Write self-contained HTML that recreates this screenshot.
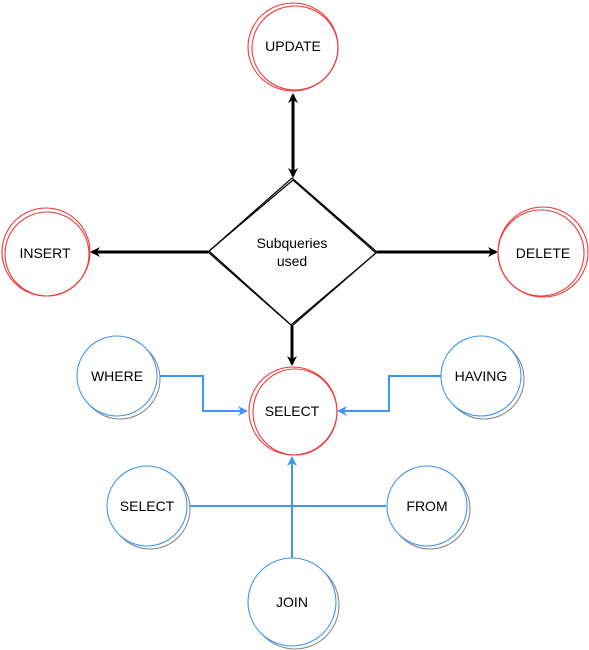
<!DOCTYPE html>
<html><head><meta charset="utf-8"><style>
html,body{margin:0;padding:0;background:#fff;}
svg{display:block;font-family:"Liberation Sans",Arial,sans-serif;font-size:14px;}
</style></head><body>
<svg width="589" height="650" viewBox="0 0 589 650" xmlns="http://www.w3.org/2000/svg">
<defs>
<marker id="ab" markerWidth="10" markerHeight="10" refX="8" refY="5" orient="auto" markerUnits="userSpaceOnUse"><path d="M0,0 L10,5 L0,10 L3,5 Z" fill="#000"/></marker>
<marker id="abs" markerWidth="10" markerHeight="10" refX="2" refY="5" orient="auto" markerUnits="userSpaceOnUse"><path d="M10,0 L0,5 L10,10 L7,5 Z" fill="#000"/></marker>
<marker id="bb" markerWidth="10" markerHeight="10" refX="8" refY="5" orient="auto" markerUnits="userSpaceOnUse"><path d="M0,0 L10,5 L0,10 L3,5 Z" fill="#3d96f2"/></marker>
</defs>
<!-- black connectors -->
<g stroke="#000" stroke-width="3" fill="none">
<line x1="293" y1="176" x2="293" y2="95" marker-end="url(#ab)" marker-start="url(#abs)"/>
<line x1="208" y1="252" x2="92" y2="252" marker-end="url(#ab)"/>
<line x1="377" y1="252" x2="496" y2="252" marker-end="url(#ab)"/>
<line x1="292" y1="326" x2="292" y2="364" marker-end="url(#ab)"/>
</g>
<!-- blue connectors -->
<g stroke="#3d96f2" stroke-width="2" fill="none">
<polyline points="158,376 203,376 203,411 246,411" marker-end="url(#bb)"/>
<polyline points="441,376 389,376 389,411 339,411" marker-end="url(#bb)"/>
<line x1="188" y1="506" x2="386" y2="506"/>
<line x1="292" y1="558" x2="292" y2="458" marker-end="url(#bb)"/>
</g>
<!-- diamond -->
<g fill="#fff" stroke="#000" stroke-width="1.2">
<polygon points="292,178 377,252 292,326 208,252"/>
<polygon points="293,180 376,253 291,325 209,251" fill="none"/>
</g>
<text x="292" y="248" text-anchor="middle">Subqueries</text>
<text x="292" y="266" text-anchor="middle">used</text>
<!-- red circles -->
<g fill="#fff" stroke="#f03a3a" stroke-width="1.1">
<ellipse cx="293" cy="47" rx="45" ry="44"/><ellipse cx="295" cy="48" rx="43" ry="42" fill="none"/>
<ellipse cx="46" cy="252" rx="44" ry="44"/><ellipse cx="47" cy="254" rx="42" ry="42" fill="none"/>
<ellipse cx="543" cy="252" rx="45" ry="45"/><ellipse cx="541" cy="253" rx="43" ry="43" fill="none"/>
<ellipse cx="293" cy="411" rx="44" ry="44"/><ellipse cx="295" cy="412" rx="42" ry="43" fill="none"/>
</g>
<!-- blue circles -->
<g fill="#fff" stroke-width="1.1">
<g stroke="#888"><ellipse cx="120" cy="379" rx="40" ry="40"/><ellipse cx="484" cy="379" rx="40" ry="40"/><ellipse cx="150" cy="509" rx="40" ry="40"/><ellipse cx="430" cy="509" rx="40" ry="40"/><ellipse cx="295" cy="605" rx="44" ry="44"/></g>
<g stroke="#3d96f2"><ellipse cx="117" cy="376" rx="40" ry="40"/><ellipse cx="481" cy="376" rx="40" ry="40"/><ellipse cx="147" cy="506" rx="40" ry="40"/><ellipse cx="427" cy="506" rx="40" ry="40"/><ellipse cx="292" cy="602" rx="44" ry="44"/></g>
</g>
<g text-anchor="middle">
<text x="293" y="51">UPDATE</text>
<text x="45" y="258">INSERT</text>
<text x="543" y="258">DELETE</text>
<text x="292" y="416">SELECT</text>
<text x="117" y="381">WHERE</text>
<text x="481" y="381">HAVING</text>
<text x="147" y="511">SELECT</text>
<text x="427" y="511">FROM</text>
<text x="292" y="607">JOIN</text>
</g>
</svg>
</body></html>
